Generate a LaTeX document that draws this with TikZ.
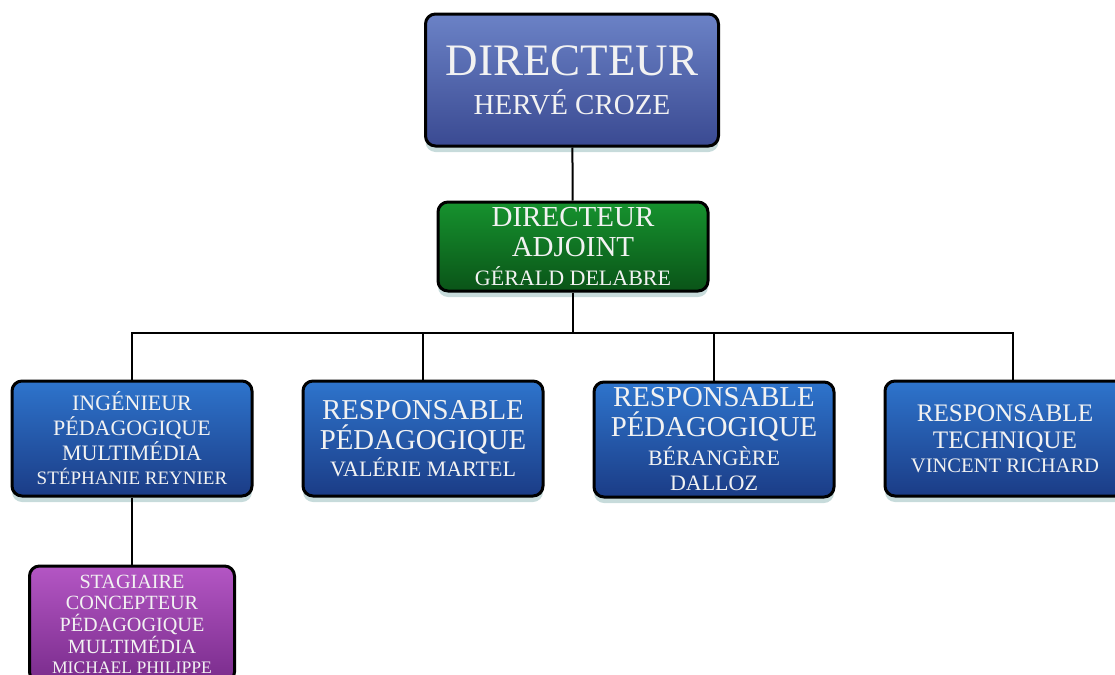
\documentclass[tikz,border=0pt]{standalone}
\usepackage{fontspec}
\setmainfont{Liberation Serif}
\usetikzlibrary{shadows,positioning,calc}

\definecolor{dirtop}{HTML}{6B82C6}
\definecolor{dirbot}{HTML}{3A4A92}
\definecolor{adjtop}{HTML}{16922E}
\definecolor{adjbot}{HTML}{0A5418}
\definecolor{resptop}{HTML}{2E74CC}
\definecolor{respbot}{HTML}{1B3C86}
\definecolor{stagtop}{HTML}{B456C4}
\definecolor{stagbot}{HTML}{7A2C8C}
\definecolor{glow}{HTML}{8FB8B8}

\newcommand{\fsz}[2]{{\fontsize{#1}{#1}\selectfont #2}}

\begin{document}
\begin{tikzpicture}
[x=0.5pt,y=-0.5pt,
box/.style={draw=black, line width=1.5pt, rounded corners=5pt, align=center, inner sep=0pt,
  text=white!90!gray, drop shadow={shadow xshift=0pt, shadow yshift=-3pt, fill=glow, opacity=0.5}},
dirbox/.style={box, top color=dirtop, bottom color=dirbot, minimum width=146.5pt, minimum height=66pt},
adjbox/.style={box, top color=adjtop, bottom color=adjbot, minimum width=135pt, minimum height=44.5pt},
respbox/.style={box, top color=resptop, bottom color=respbot, minimum width=120pt, minimum height=57.5pt},
stagbox/.style={box, top color=stagtop, bottom color=stagbot, minimum width=102.5pt, minimum height=58pt},
edge/.style={black, line width=1pt}]
%%%%%%%%%%

\useasboundingbox (0,0) rectangle (1115,675);

% direction
\node[dirbox, font=\fontsize{22.5}{19.5}\selectfont] (dir) at (572,80)
  {DIRECTEUR\\\fsz{14.5}{HERVÉ CROZE}};
\node[adjbox, font=\fontsize{14.5}{15}\selectfont] (adj) at (573,246.5)
  {DIRECTEUR\\ADJOINT\\[-0.5pt]\fsz{11}{GÉRALD DELABRE}};

% responsables
\node[respbox, font=\fontsize{11}{12.3}\selectfont] (ing) at (132,438.5)
  {INGÉNIEUR\\PÉDAGOGIQUE\\MULTIMÉDIA\\\fsz{9.5}{STÉPHANIE REYNIER}};
\node[respbox, font=\fontsize{14.4}{15}\selectfont] (rpa) at (423,438.5)
  {RESPONSABLE\\PÉDAGOGIQUE\\[-1.5pt]\fsz{11}{VALÉRIE MARTEL}};
\node[respbox, font=\fontsize{14.4}{15}\selectfont] (rpb) at (714,439.5)
  {RESPONSABLE\\PÉDAGOGIQUE\\[-0.5pt]\fsz{11}{BÉRANGÈRE}\\[-2.5pt]\fsz{11}{DALLOZ}};
\node[respbox, font=\fontsize{12.6}{13.5}\selectfont] (tec) at (1005,438.5)
  {RESPONSABLE\\TECHNIQUE\\[-1.5pt]\fsz{10.3}{VINCENT RICHARD}};

% stagiaire
\node[stagbox, font=\fontsize{10.1}{10.9}\selectfont] (stag) at (132,624)
  {STAGIAIRE\\CONCEPTEUR\\PÉDAGOGIQUE\\MULTIMÉDIA\\[-1pt]\fsz{8.8}{MICHAEL PHILIPPE}};

\coordinate (bus) at (573,333);

\draw[edge] (dir) -- (adj);
\draw[edge] (adj) -- (bus);
\draw[edge] (bus) -| (ing);
\draw[edge] (bus) -| (rpa);
\draw[edge] (bus) -| (rpb);
\draw[edge] (bus) -| ([xshift=4pt]tec.north);
\draw[edge] (ing) -- (stag);
\end{tikzpicture}
\end{document}
